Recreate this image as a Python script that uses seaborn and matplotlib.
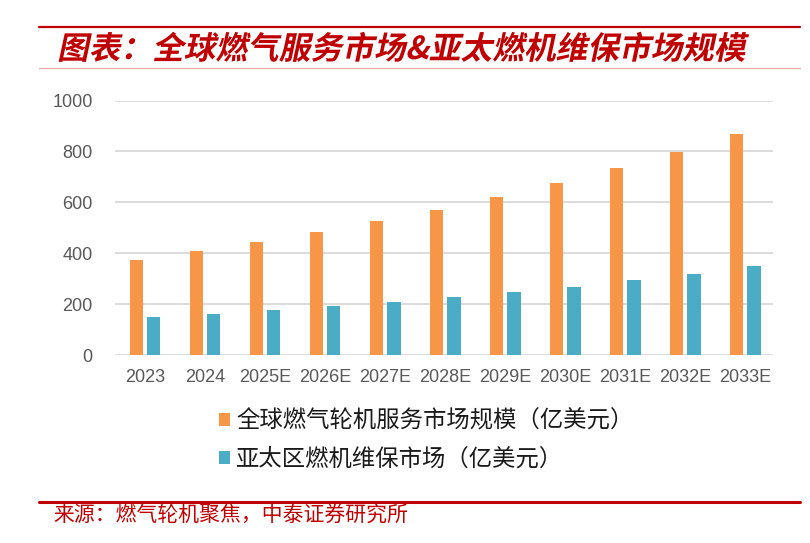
import matplotlib
matplotlib.use("Agg")
import matplotlib.pyplot as plt
import matplotlib.patheffects as pe
from matplotlib.transforms import Affine2D
from matplotlib.lines import Line2D
import seaborn as sns
import pandas as pd

# data
years = ['2023', '2024', '2025E', '2026E', '2027E', '2028E',
         '2029E', '2030E', '2031E', '2032E', '2033E']
global_service = [374, 408, 444, 483, 525, 571, 620, 674, 733, 798, 868]
apac_maint = [149, 162, 177, 194, 209, 228, 249, 268, 293, 318, 351]
series_names = ['全球燃气轮机服务市场规模（亿美元）', '亚太区燃机维保市场（亿美元）']

title_text = '图表：全球燃气服务市场&亚太燃机维保市场规模'
source_text = '来源：燃气轮机聚焦，中泰证券研究所'

ORANGE = '#F79646'
TEAL = '#4BACC6'
RED = '#C00000'
CJK = ['Noto Sans CJK SC', 'DejaVu Sans']


class Slant(pe.AbstractPathEffect):
    """Shear glyph paths to fake an italic face."""
    def __init__(self, angle=12):
        super().__init__()
        self.angle = angle

    def draw_path(self, renderer, gc, tpath, affine, rgbFace=None):
        renderer.draw_path(gc, tpath, Affine2D().skew_deg(self.angle, 0) + affine, rgbFace)


sns.set_theme(style='white')
plt.rcParams['font.family'] = ['Liberation Sans', 'Noto Sans CJK SC']

df = pd.DataFrame({
    'year': years * 2,
    'value': global_service + apac_maint,
    'series': [series_names[0]] * len(years) + [series_names[1]] * len(years),
})

fig = plt.figure(figsize=(8.1, 5.43), dpi=100)
ax = fig.add_axes([115 / 810, 1 - 355 / 543, 658 / 810, 254.5 / 543])

sns.barplot(data=df, x='year', y='value', hue='series', order=years,
            hue_order=series_names, palette=[ORANGE, TEAL], saturation=1,
            width=0.578, gap=0.23, edgecolor='none', ax=ax, zorder=3)

ax.set_ylim(0, 1000)
ax.set_yticks(range(0, 1001, 200))
ax.set_xlim(-0.5, 10.46)
ax.set_xlabel('')
ax.set_ylabel('')
ax.grid(True, axis='y', color='#D9D9D9', linewidth=1.3, zorder=0)
ax.set_axisbelow(True)
for s in ax.spines.values():
    s.set_visible(False)
ax.tick_params(axis='both', length=0, labelsize=13, colors='#595959')
ax.tick_params(axis='y', pad=16)
ax.tick_params(axis='x', pad=10)

handles, labels = ax.get_legend_handles_labels()
ax.get_legend().remove()
fig.legend(handles, labels, loc='upper left', bbox_to_anchor=(219 / 810, 1 - 410 / 543),
           frameon=False, prop={'family': CJK, 'size': 16.8}, handlelength=0.48,
           handleheight=0.48, handletextpad=0.25, labelspacing=0.62,
           borderpad=0, borderaxespad=0, labelcolor='#1a1a1a')

# header / footer decoration
fig.add_artist(Line2D([39 / 810, 800 / 810], [1 - 26.7 / 543] * 2, color=RED, lw=1.6))
fig.add_artist(Line2D([39 / 810, 800 / 810], [1 - 68 / 543] * 2, color='#EBA8A8', lw=0.9))
fig.add_artist(Line2D([39 / 810, 800 / 810], [1 - 501.5 / 543] * 2, color=RED, lw=2.2))

fig.text(57 / 810, 1 - 50 / 543, title_text, family=CJK, fontsize=22.8, fontweight='bold',
         color=RED, va='center', ha='left', path_effects=[Slant(12)])
fig.text(53 / 810, 1 - 516 / 543, source_text, family=CJK, fontsize=15,
         color=RED, va='center', ha='left')

fig.savefig('out.png', dpi=100)
